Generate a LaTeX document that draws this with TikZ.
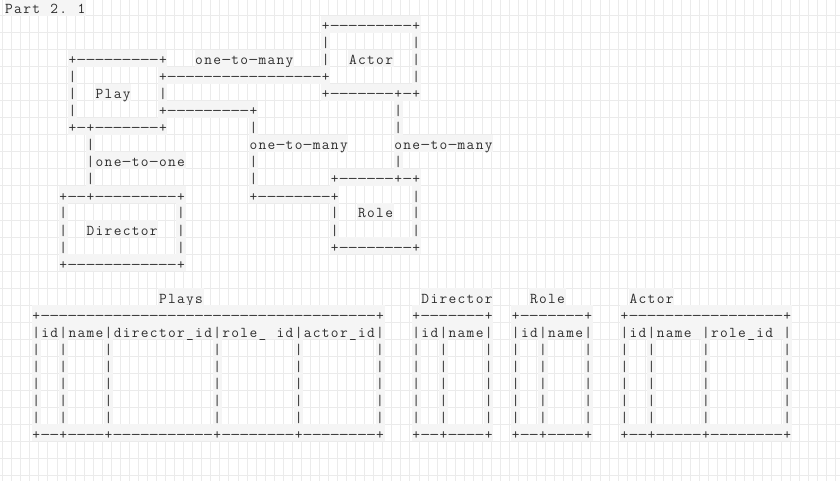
\documentclass[tikz,border=0pt]{standalone}
\usepackage{fontspec}

\definecolor{gridline}{RGB}{235,235,235}
\definecolor{hl}{RGB}{245,245,245}
\definecolor{ink}{RGB}{45,45,45}

% one monospace cell per character, the dash a little longer
\ExplSyntaxOn
\NewDocumentCommand{\cells}{m}
  {\str_map_inline:nn {#1}
    {\hbox_to_wd:nn {9.05pt}
      {\hss \str_if_eq:nnTF {##1} {-} {\scalebox{1.35}[1]{-}} {##1} \hss}}}
\ExplSyntaxOff

% a run of characters at row #1, column #2
\newcommand{\txt}[3]{\node[run] (r#1c#2) at ({4.3+9.05*#2},{7.5+17*#1}) {\cells{#3}};}

\begin{document}
\begin{tikzpicture}[x=1pt, y=-1pt,
  run/.style={anchor=west, fill=hl, text=ink, inner sep=0pt,
    text height=15pt, text depth=2pt, font=\ttfamily\fontsize{15}{17}\selectfont}]
\useasboundingbox (0,0) rectangle (840,481);
\fill[white] (0,0) rectangle (840,481);

% background grid
\foreach \x in {0,...,92}
  \draw[gridline, line width=1pt] ({2.7+9.05*\x},0) -- ({2.7+9.05*\x},481);
\foreach \y in {1,...,28}
  \draw[gridline, line width=1pt] (0,{17*\y-1}) -- (840,{17*\y-1});

\txt{0}{0}{Part 2. 1}

% Actor box
\txt{1}{35}{+---------+}
\txt{2}{35}{|} \txt{2}{45}{|}
% Play box and the one-to-many to Actor
\txt{3}{7}{+---------+} \txt{3}{21}{one-to-many}
\txt{3}{35}{|} \txt{3}{38}{Actor} \txt{3}{45}{|}
\txt{4}{7}{|} \txt{4}{17}{+-----------------+} \txt{4}{45}{|}
\txt{5}{7}{|} \txt{5}{10}{Play} \txt{5}{17}{|} \txt{5}{35}{+-------+-+}
\txt{6}{7}{|} \txt{6}{17}{+---------+} \txt{6}{43}{|}
\txt{7}{7}{+-+-------+} \txt{7}{27}{|} \txt{7}{43}{|}
\txt{8}{9}{|} \txt{8}{27}{one-to-many} \txt{8}{43}{one-to-many}
\txt{9}{9}{|one-to-one} \txt{9}{27}{|} \txt{9}{43}{|}
\txt{10}{9}{|} \txt{10}{27}{|} \txt{10}{36}{+------+-+}
% Director box and Role box
\txt{11}{6}{+--+---------+} \txt{11}{27}{+--------+} \txt{11}{45}{|}
\txt{12}{6}{|} \txt{12}{19}{|} \txt{12}{36}{|} \txt{12}{39}{Role} \txt{12}{45}{|}
\txt{13}{6}{|} \txt{13}{9}{Director} \txt{13}{19}{|} \txt{13}{36}{|} \txt{13}{45}{|}
\txt{14}{6}{|} \txt{14}{19}{|} \txt{14}{36}{+--------+}
\txt{15}{6}{+------------+}

% tables
\txt{17}{17}{Plays} \txt{17}{46}{Director} \txt{17}{58}{Role} \txt{17}{69}{Actor}
\txt{18}{3}{+-------------------------------------+}
\txt{18}{45}{+-------+} \txt{18}{56}{+-------+} \txt{18}{68}{+-----------------+}
\txt{19}{3}{|id|name|director_id|role_ id|actor_id|}
\txt{19}{45}{|id|name|} \txt{19}{56}{|id|name|} \txt{19}{68}{|id|name |role_id |}
\foreach \y in {20,...,24}
  \foreach \x in {3,6,11,23,32,41,45,48,53,56,59,64,68,71,77,86}
    {\txt{\y}{\x}{|}}
\txt{25}{3}{+--+----+-----------+--------+--------+}
\txt{25}{45}{+--+----+} \txt{25}{56}{+--+----+} \txt{25}{68}{+--+-----+--------+}
\end{tikzpicture}
\end{document}
